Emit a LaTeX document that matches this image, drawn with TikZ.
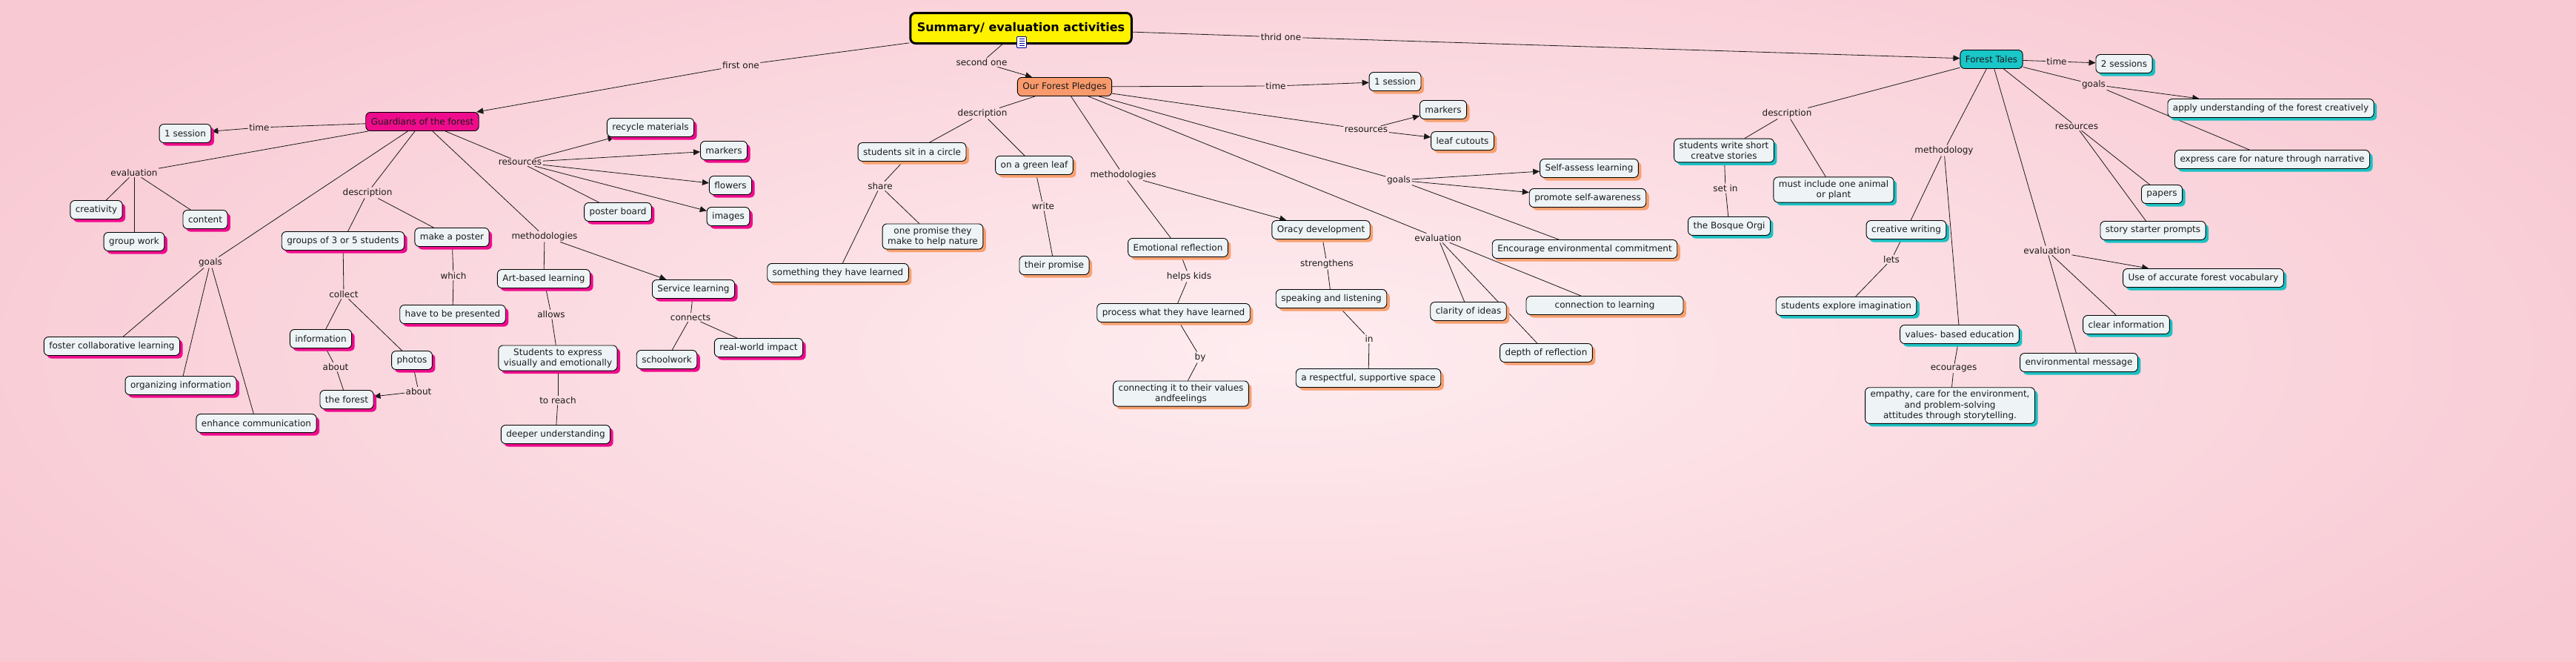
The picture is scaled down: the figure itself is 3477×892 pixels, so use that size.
\documentclass[tikz,border=0pt]{standalone}
\usepackage{fontspec}
\setmainfont{DejaVu Sans}
\usetikzlibrary{arrows.meta,shadows}
\definecolor{bgin}{HTML}{FEEDF0}
\definecolor{bgout}{HTML}{F8C9D3}
\definecolor{cfill}{HTML}{EEF4F6}
\definecolor{gcol}{HTML}{EE0C8C}
\definecolor{pcol}{HTML}{F99A6C}
\definecolor{tcol}{HTML}{19C6C8}
\definecolor{psh}{HTML}{F7A070}
\definecolor{tsh}{HTML}{1CC0C2}
\definecolor{ink}{HTML}{1A1A1A}
\pgfdeclarelayer{bg}
\pgfdeclarelayer{edges}
\pgfsetlayers{bg,edges,main}

\begin{document}
\begin{tikzpicture}[x=1pt,y=-1pt,
	cbox/.style={draw=black,line width=0.9pt,rounded corners=6pt,fill=cfill,text=ink,font=\fontsize{12}{14.5}\selectfont,inner xsep=7pt,inner ysep=4pt,minimum height=25pt,align=center},
	gbox/.style={cbox,drop shadow={shadow xshift=4pt,shadow yshift=-4pt,fill=gcol,opacity=1}},
	pbox/.style={cbox,drop shadow={shadow xshift=4pt,shadow yshift=-4pt,fill=psh,opacity=1}},
	tbox/.style={cbox,drop shadow={shadow xshift=4pt,shadow yshift=-4pt,fill=tsh,opacity=1}},
	mainbox/.style={draw=black,line width=0.9pt,rounded corners=6pt,text=ink,font=\fontsize{12}{14.5}\selectfont,inner xsep=7pt,minimum height=25pt},
	rootbox/.style={draw=black,line width=3pt,rounded corners=7pt,fill=yellow,font=\fontsize{16}{19}\selectfont\bfseries,inner xsep=9pt,minimum height=41pt},
	lbl/.style={font=\fontsize{12}{14}\selectfont,text=ink,inner sep=1.5pt},
	wire/.style={draw=ink,line width=0.8pt},
	arw/.style={-{Triangle[length=9pt,width=8pt]}}]
			\useasboundingbox (0,0) rectangle (3477,892);
			\begin{pgfonlayer}{bg}
				\clip (0,0) rectangle (3477,892);
				\shade[inner color=bgin,outer color=bgout] (-250,-200) rectangle (3727,1150);
			\end{pgfonlayer}
			
			\node[rootbox] (root) at (1378,38) {Summary/ evaluation activities};
			\node[draw=blue!60!black,fill=white,line width=0.8pt,rounded corners=1pt,minimum width=13pt,minimum height=15pt,inner sep=0pt,
				path picture={\foreach \k in {-4,-1,2,5}{\draw[blue!60!black,line width=0.6pt] ([xshift=3pt,yshift=\k pt]path picture bounding box.west)--([xshift=-3pt,yshift=\k pt]path picture bounding box.east);}}] (icon) at (1379,57) {};
			\node[lbl] (lfirst) at (1000,88) {first one};
			\node[lbl] (lsecond) at (1325,84) {second one};
			\node[lbl] (lthird) at (1729,50) {thrid one};
			
			\node[mainbox,fill=gcol] (guard) at (570,164) {Guardians of the forest};
			\node[lbl] (lGtime) at (350,172) {time};
			\node[gbox] (gsess) at (250,180) {1 session};
			\node[lbl] (lGeval) at (181,233) {evaluation};
			\node[gbox] (crea) at (130,283) {creativity};
			\node[gbox] (gwork) at (181,326) {group work};
			\node[gbox] (cont) at (277,296) {content};
			\node[lbl] (lGgoals) at (284,354) {goals};
			\node[gbox] (foster) at (151,467) {foster collaborative learning};
			\node[gbox] (organ) at (244,520) {organizing information};
			\node[gbox] (enhan) at (346,571) {enhance communication};
			\node[lbl] (lGdesc) at (496,260) {description};
			\node[gbox] (groups) at (463,325) {groups of 3 or 5 students};
			\node[gbox] (poster) at (610,320) {make a poster};
			\node[lbl] (lcollect) at (464,397) {collect};
			\node[gbox] (info) at (433,457) {information};
			\node[gbox] (photos) at (556,486) {photos};
			\node[lbl] (labout1) at (453,495) {about};
			\node[gbox] (forest) at (468,539) {the forest};
			\node[lbl] (labout2) at (565,528) {about};
			\node[lbl] (lwhich) at (612,372) {which};
			\node[gbox] (present) at (611,424) {have to be presented};
			\node[lbl] (lGres) at (702,219) {resources};
			\node[gbox] (recyc) at (878,172) {recycle materials};
			\node[gbox] (gmark) at (977,203) {markers};
			\node[gbox] (flow) at (986,250) {flowers};
			\node[gbox] (imgs) at (983,292) {images};
			\node[gbox] (board) at (834,286) {poster board};
			\node[lbl] (lGmeth) at (735,319) {methodologies};
			\node[gbox] (art) at (734,376) {Art-based learning};
			\node[gbox] (serv) at (936,390) {Service learning};
			\node[lbl] (lallows) at (744,424) {allows};
			\node[gbox] (express) at (753,483) {Students to express\\visually and emotionally};
			\node[lbl] (lreach) at (753,540) {to reach};
			\node[gbox] (deeper) at (750,586) {deeper understanding};
			\node[lbl] (lconn) at (932,428) {connects};
			\node[gbox] (school) at (900,485) {schoolwork};
			\node[gbox] (real) at (1024,469) {real-world impact};
			
			\node[mainbox,fill=pcol] (pledge) at (1437,117) {Our Forest Pledges};
			\node[lbl] (lPtime) at (1722,116) {time};
			\node[pbox] (psess) at (1883,110) {1 session};
			\node[lbl] (lPres) at (1844,175) {resources};
			\node[pbox] (pmark) at (1948,148) {markers};
			\node[pbox] (leaf) at (1974,190) {leaf cutouts};
			\node[lbl] (lPgoals) at (1888,243) {goals};
			\node[pbox] (selfa) at (2145,227) {Self-assess learning};
			\node[pbox] (promo) at (2143,267) {promote self-awareness};
			\node[pbox] (encour) at (2139,336) {Encourage environmental commitment};
			\node[lbl] (lPdesc) at (1326,153) {description};
			\node[pbox] (circle) at (1231,205) {students sit in a circle};
			\node[pbox] (gleaf) at (1396,223) {on a green leaf};
			\node[lbl] (lshare) at (1188,251) {share};
			\node[pbox] (learned) at (1131,368) {something they have learned};
			\node[pbox] (promise) at (1259,319) {one promise they\\make to help nature};
			\node[lbl] (lwrite) at (1408,278) {write};
			\node[pbox] (their) at (1423,358) {their promise};
			\node[lbl] (lPmeth) at (1516,236) {methodologies};
			\node[pbox] (emot) at (1590,334) {Emotional reflection};
			\node[pbox] (oracy) at (1783,310) {Oracy development};
			\node[lbl] (lhelps) at (1605,373) {helps kids};
			\node[pbox] (process) at (1584,422) {process what they have learned};
			\node[lbl] (lby) at (1620,482) {by};
			\node[pbox] (values) at (1594,531) {connecting it to their values\\andfeelings};
			\node[lbl] (lstreng) at (1791,356) {strengthens};
			\node[pbox] (speak) at (1797,403) {speaking and listening};
			\node[lbl] (lin) at (1848,457) {in};
			\node[pbox] (supp) at (1847,510) {a respectful, supportive space};
			\node[lbl] (lPeval) at (1941,321) {evaluation};
			\node[pbox] (clarity) at (1982,420) {clarity of ideas};
			\node[pbox] (depth) at (2087,476) {depth of reflection};
			\node[pbox,minimum width=212pt] (connl) at (2166,412) {connection to learning};
			
			\node[mainbox,fill=tcol] (tales) at (2688,80) {Forest Tales};
			\node[lbl] (lTtime) at (2776,83) {time};
			\node[tbox] (tsess) at (2867,86) {2 sessions};
			\node[lbl] (lTgoals) at (2826,114) {goals};
			\node[tbox] (apply) at (3065,146) {apply understanding of the forest creatively};
			\node[tbox] (care) at (3067,215) {express care for nature through narrative};
			\node[lbl] (lTres) at (2803,171) {resources};
			\node[tbox] (papers) at (2918,262) {papers};
			\node[tbox] (starter) at (2906,311) {story starter prompts};
			\node[lbl] (lTdesc) at (2412,153) {description};
			\node[tbox] (short) at (2327,203) {students write short\\creatve stories};
			\node[tbox] (animal) at (2475,256) {must include one animal\\or plant};
			\node[lbl] (lset) at (2329,254) {set in};
			\node[tbox] (bosque) at (2334,305) {the Bosque Orgi};
			\node[lbl] (lTmeth) at (2624,203) {methodology};
			\node[tbox] (cwrit) at (2573,310) {creative writing};
			\node[lbl] (lets) at (2553,350) {lets};
			\node[tbox] (imag) at (2492,413) {students explore imagination};
			\node[tbox] (valedu) at (2645,451) {values- based education};
			\node[lbl] (lecour) at (2637,497) {ecourages};
			\node[tbox] (empathy) at (2632,547) {empathy, care for the environment,\\and problem-solving\\attitudes through storytelling.};
			\node[lbl] (lTeval) at (2763,338) {evaluation};
			\node[tbox] (vocab) at (2974,375) {Use of accurate forest vocabulary};
			\node[tbox] (clear) at (2870,438) {clear information};
			\node[tbox] (envmsg) at (2806,489) {environmental message};
			
			\begin{pgfonlayer}{edges}
				\foreach \a/\b in {root/lfirst,root/lsecond,root/lthird,
					guard/lGtime,guard/lGeval,lGeval/crea,lGeval/gwork,lGeval/cont,
					guard/lGgoals,lGgoals/foster,lGgoals/organ,lGgoals/enhan,
					guard/lGdesc,lGdesc/groups,lGdesc/poster,groups/lcollect,lcollect/info,lcollect/photos,
					info/labout1,labout1/forest,photos/labout2,poster/lwhich,lwhich/present,
					guard/lGres,lGres/board,guard/lGmeth,lGmeth/art,
					art/lallows,lallows/express,express/lreach,lreach/deeper,serv/lconn,lconn/school,lconn/real,
					pledge/lPtime,pledge/lPres,pledge/lPgoals,lPgoals/encour,
					pledge/lPdesc,lPdesc/circle,lPdesc/gleaf,circle/lshare,lshare/learned,lshare/promise,
					gleaf/lwrite,lwrite/their,pledge/lPmeth,lPmeth/emot,
					emot/lhelps,lhelps/process,process/lby,lby/values,
					oracy/lstreng,lstreng/speak,speak/lin,lin/supp,
					pledge/lPeval,lPeval/clarity,lPeval/depth,lPeval/connl,
					tales/lTtime,tales/lTgoals,lTgoals/care,tales/lTres,lTres/papers,lTres/starter,
					tales/lTdesc,lTdesc/short,lTdesc/animal,short/lset,lset/bosque,
					tales/lTmeth,lTmeth/cwrit,lTmeth/valedu,cwrit/lets,lets/imag,valedu/lecour,lecour/empathy,
					tales/lTeval,lTeval/clear,lTeval/envmsg}{
					\draw[wire] (\a)--(\b);
				}
				\foreach \a/\b in {lfirst/guard,lsecond/pledge,lthird/tales,
					lGtime/gsess,lGres/recyc,lGres/gmark,lGres/flow,lGres/imgs,labout2/forest,lGmeth/serv,
					lPtime/psess,lPres/pmark,lPres/leaf,lPgoals/selfa,lPgoals/promo,lPmeth/oracy,
					lTtime/tsess,lTgoals/apply,lTeval/vocab}{
					\draw[wire,arw] (\a)--(\b);
				}
			\end{pgfonlayer}
			\end{tikzpicture}
\end{document}
